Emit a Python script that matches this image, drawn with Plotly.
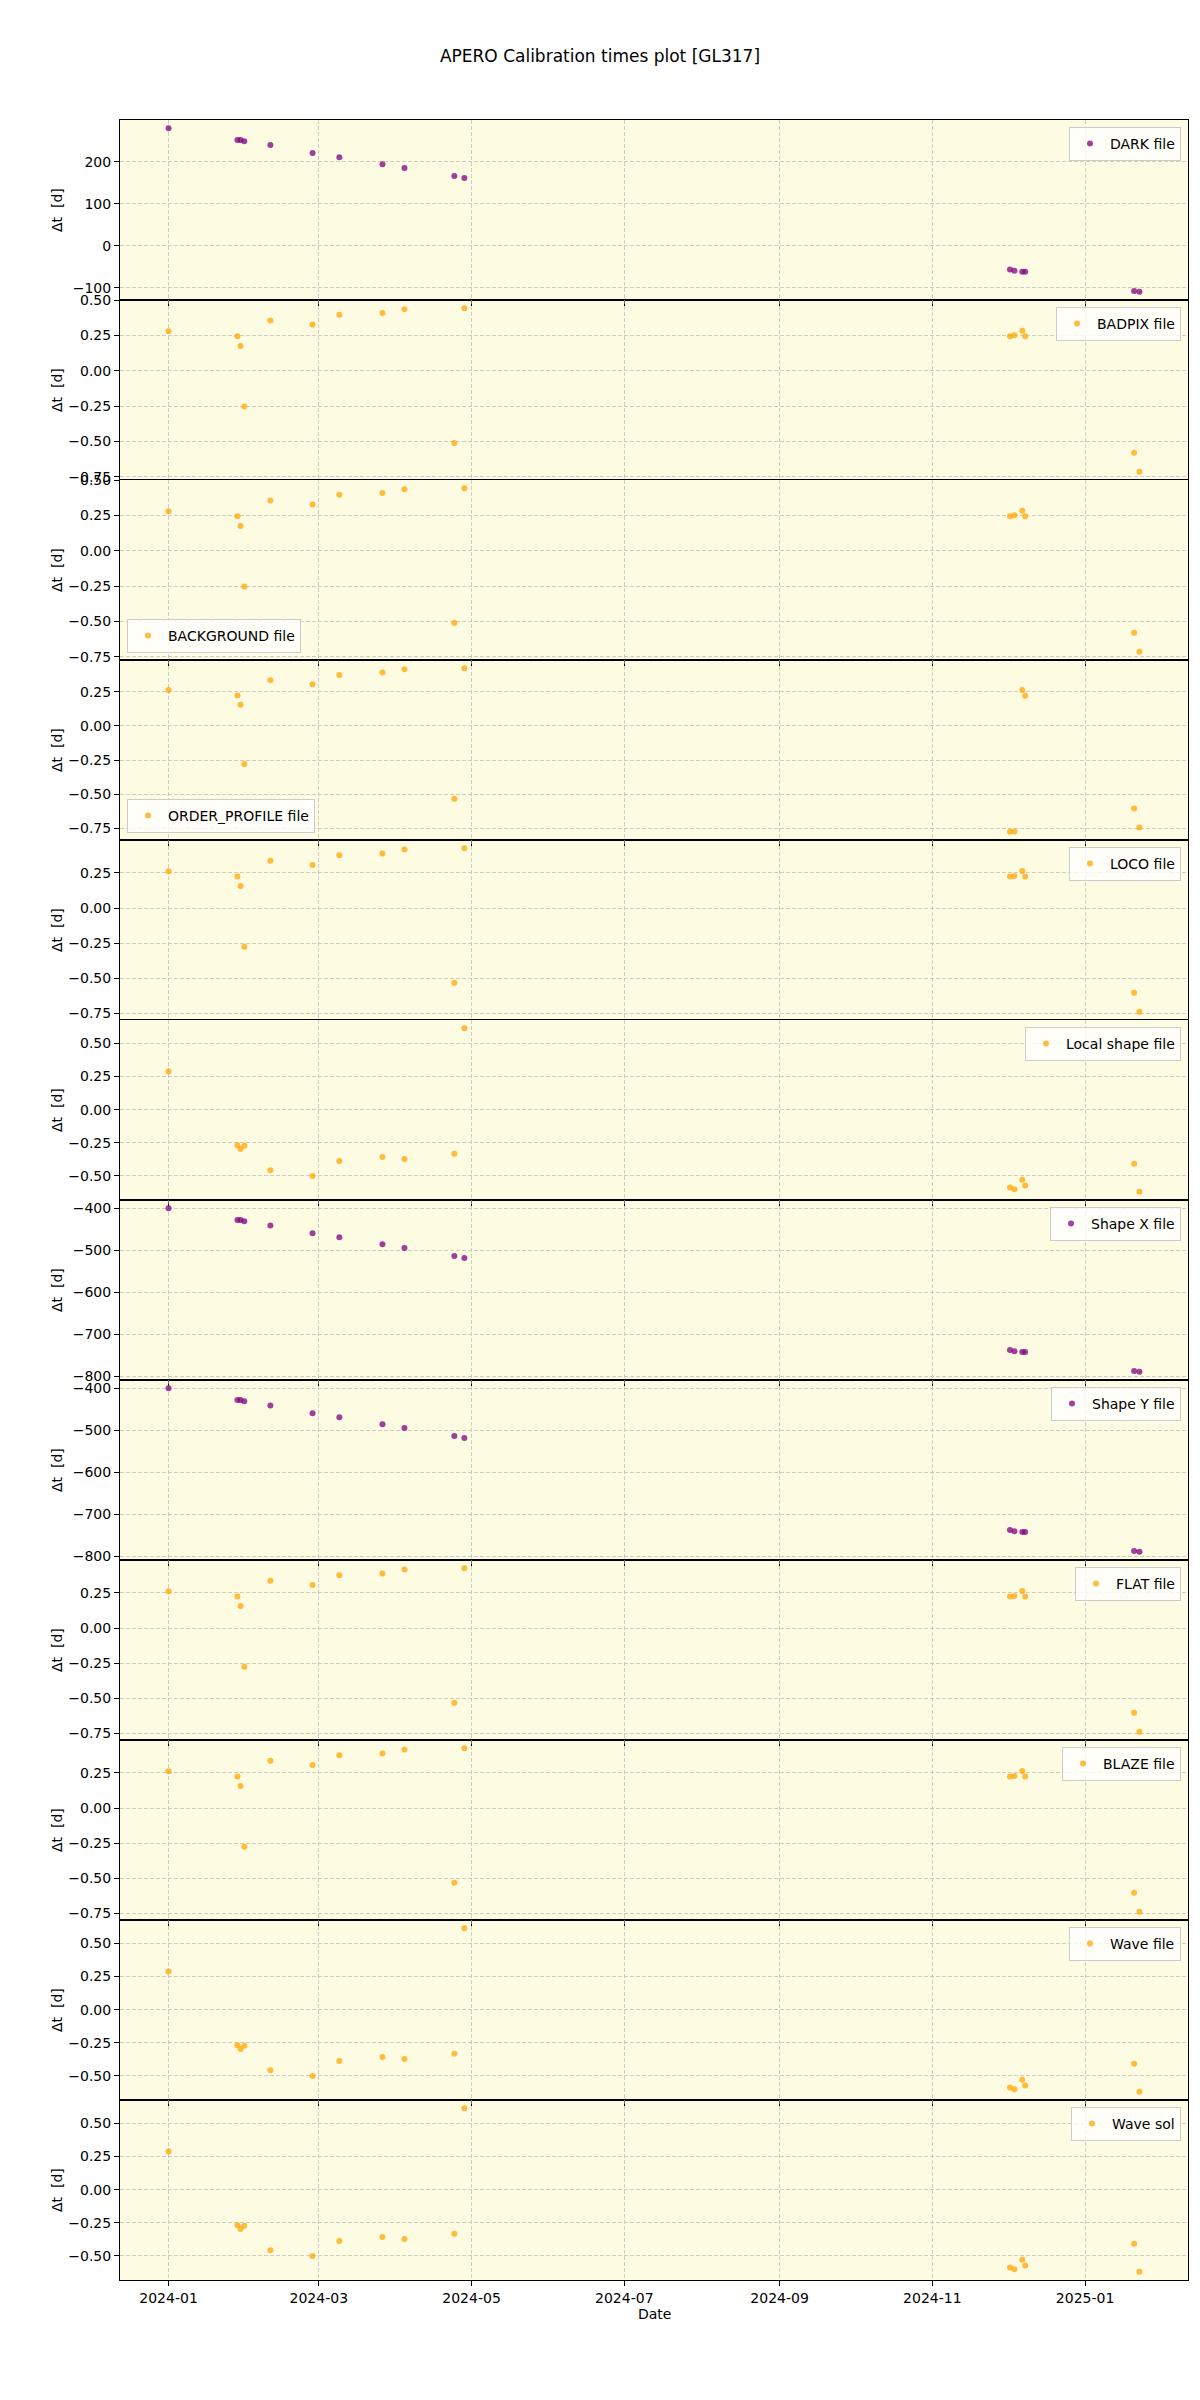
import plotly.graph_objects as go
from plotly.subplots import make_subplots
import pandas as pd

# ---------------- data ----------------
dates = ["2024-01-01 00:00", "2024-01-28 12:00", "2024-01-29 18:00", "2024-01-31 06:00",
         "2024-02-10 16:00", "2024-02-27 12:00", "2024-03-09 05:00", "2024-03-26 10:00",
         "2024-04-04 05:00", "2024-04-24 03:00", "2024-04-28 03:00", "2024-12-02 00:00",
         "2024-12-03 19:00", "2024-12-06 22:00", "2024-12-08 02:00", "2025-01-20 14:00",
         "2025-01-22 17:00"]

dark = [280, 252, 252, 249, 240, 221, 211, 194, 185, 166, 161, -57, -60, -62, -62, -108, -110]
badpix = [0.280, 0.245, 0.176, -0.252, 0.356, 0.328, 0.397, 0.409, 0.437, -0.511, 0.444,
          0.245, 0.252, 0.285, 0.245, -0.580, -0.715]
background = [0.280, 0.245, 0.176, -0.252, 0.356, 0.328, 0.397, 0.409, 0.437, -0.511, 0.444,
              0.245, 0.252, 0.285, 0.245, -0.580, -0.715]
order_profile = [0.262, 0.223, 0.154, -0.279, 0.333, 0.304, 0.373, 0.390, 0.414, -0.534, 0.422,
                 -0.775, -0.772, 0.262, 0.221, -0.605, -0.743]
loco = [0.262, 0.224, 0.157, -0.276, 0.336, 0.307, 0.376, 0.388, 0.417, -0.531, 0.426,
        0.224, 0.229, 0.264, 0.224, -0.602, -0.738]
local_shape = [0.289, -0.268, -0.296, -0.273, -0.458, -0.501, -0.387, -0.357, -0.372, -0.332, 0.615,
               -0.587, -0.600, -0.529, -0.572, -0.408, -0.620]
shape_x = [-400, -428, -428, -431, -441, -460, -469, -486, -495, -514, -519,
           -738, -741, -743, -743, -788, -790]
shape_y = [-400, -428, -428, -431, -441, -460, -469, -486, -495, -514, -519,
           -738, -741, -743, -743, -788, -790]
flat = [0.262, 0.224, 0.157, -0.276, 0.336, 0.307, 0.376, 0.388, 0.417, -0.531, 0.426,
        0.224, 0.229, 0.264, 0.224, -0.602, -0.738]
blaze = [0.262, 0.224, 0.157, -0.276, 0.336, 0.307, 0.376, 0.388, 0.417, -0.531, 0.426,
         0.224, 0.229, 0.264, 0.224, -0.602, -0.738]
wave_file = [0.289, -0.268, -0.296, -0.273, -0.458, -0.501, -0.387, -0.357, -0.372, -0.332, 0.615,
             -0.587, -0.600, -0.529, -0.572, -0.408, -0.620]
wave_sol = [0.289, -0.268, -0.296, -0.273, -0.458, -0.501, -0.387, -0.357, -0.372, -0.332, 0.615,
            -0.587, -0.600, -0.529, -0.572, -0.408, -0.620]

series_names = ["DARK file", "BADPIX file", "BACKGROUND file", "ORDER_PROFILE file", "LOCO file",
                "Local shape file", "Shape X file", "Shape Y file", "FLAT file", "BLAZE file",
                "Wave file", "Wave sol"]
series_values = [dark, badpix, background, order_profile, loco, local_shape, shape_x, shape_y,
                 flat, blaze, wave_file, wave_sol]
series_colors = ["purple", "orange", "orange", "orange", "orange", "orange", "purple", "purple",
                 "orange", "orange", "orange", "orange"]
legend_corner = ["ur", "ur", "ll", "ll", "ur", "ur", "ur", "ur", "ur", "ur", "ur", "ur"]

dark_ticks = [-100, 0, 100, 200, 300]
frac_ticks = [-0.75, -0.50, -0.25, 0.0, 0.25, 0.50, 0.75]
shape_ticks = [-800, -700, -600, -500, -400]
series_ticks = [dark_ticks, frac_ticks, frac_ticks, frac_ticks, frac_ticks, frac_ticks,
                shape_ticks, shape_ticks, frac_ticks, frac_ticks, frac_ticks, frac_ticks]
series_tickfmt = ["d", ".2f", ".2f", ".2f", ".2f", ".2f", "d", "d", ".2f", ".2f", ".2f", ".2f"]

x_tick_dates = ["2024-01-01", "2024-03-01", "2024-05-01", "2024-07-01", "2024-09-01",
                "2024-11-01", "2025-01-01"]
x_tick_labels = ["2024-01", "2024-03", "2024-05", "2024-07", "2024-09", "2024-11", "2025-01"]

title_text = "APERO Calibration times plot [GL317]"

# ---------------- figure ----------------
W, H = 1200, 2400
ML, MR, MT, MB = 120, 12, 120, 120
n = len(series_names)
plot_w = W - ML - MR
plot_h = H - MT - MB

fig = make_subplots(rows=n, cols=1, shared_xaxes=True, vertical_spacing=0)

color_map = {"purple": "rgba(128,0,128,0.75)", "orange": "rgba(255,165,0,0.75)"}
font_family = "DejaVu Sans"

dt = pd.to_datetime(dates)
span = dt.max() - dt.min()
x_range = [dt.min() - 0.05 * span, dt.max() + 0.05 * span]

grid_col = "rgba(176,176,176,0.6)"
grid_dash = "4px,2px"

for i, (name, vals) in enumerate(zip(series_names, series_values)):
    leg = "legend" if i == 0 else f"legend{i + 1}"
    fig.add_trace(go.Scatter(
        x=dt, y=vals, mode="markers", name=name,
        marker=dict(size=6, color=color_map[series_colors[i]], line=dict(width=0)),
        legend=leg, showlegend=True,
    ), row=i + 1, col=1)

    lo, hi = min(vals), max(vals)
    pad = 0.05 * (hi - lo)
    fig.update_yaxes(
        row=i + 1, col=1,
        range=[lo - pad, hi + pad],
        tickvals=series_ticks[i], tickformat=series_tickfmt[i],
        showline=True, linecolor="black", linewidth=1, mirror=True,
        ticks="outside", ticklen=5, tickwidth=1, tickcolor="black",
        showgrid=True, gridcolor=grid_col, griddash=grid_dash, gridwidth=1,
        zeroline=False,
        tickfont=dict(family=font_family, size=14, color="black"),
    )
    fig.update_xaxes(
        row=i + 1, col=1,
        range=x_range, tickvals=pd.to_datetime(x_tick_dates), ticktext=x_tick_labels,
        showline=True, linecolor="black", linewidth=1, mirror=True,
        ticks="outside", ticklen=5, tickwidth=1, tickcolor="black",
        showgrid=True, gridcolor=grid_col, griddash=grid_dash, gridwidth=1,
        zeroline=False, showticklabels=(i == n - 1),
        tickfont=dict(family=font_family, size=14, color="black"),
    )

    # legend placement
    top = 1 - i / n
    bottom = 1 - (i + 1) / n
    gap_x = 7 / plot_w
    gap_y = 7 / plot_h
    if legend_corner[i] == "ur":
        lx, ly, xa, ya = 1 - gap_x, top - gap_y, "right", "top"
    else:
        lx, ly, xa, ya = gap_x, bottom + gap_y, "left", "bottom"
    fig.update_layout(**{leg: dict(
        x=lx, y=ly, xanchor=xa, yanchor=ya, xref="paper", yref="paper",
        bgcolor="rgba(255,255,255,0.8)", bordercolor="#cccccc", borderwidth=1,
        font=dict(family=font_family, size=14, color="black"),
        itemsizing="trace", tracegroupgap=0,
    )})

    # y-axis label
    fig.add_annotation(
        text="\u0394t  [d]", textangle=-90, xref="paper", yref="paper",
        x=(57 - ML) / plot_w, y=(top + bottom) / 2, xanchor="center", yanchor="middle",
        showarrow=False, font=dict(family=font_family, size=14, color="black"),
    )

fig.add_annotation(
    text="Date", xref="paper", yref="paper", x=0.5, y=-(2314 - (H - MB)) / plot_h,
    xanchor="center", yanchor="middle", showarrow=False,
    font=dict(family=font_family, size=14, color="black"),
)

fig.update_layout(
    width=W, height=H,
    margin=dict(l=ML, r=MR, t=MT, b=MB),
    paper_bgcolor="white", plot_bgcolor="rgb(253,251,226)",
    font=dict(family=font_family, size=14, color="black"),
    title=dict(text=title_text, x=0.5, xref="container", xanchor="center",
               y=1 - 56 / H, yref="container", yanchor="middle",
               font=dict(family=font_family, size=17, color="black")),
)

fig.write_html("out.html")
